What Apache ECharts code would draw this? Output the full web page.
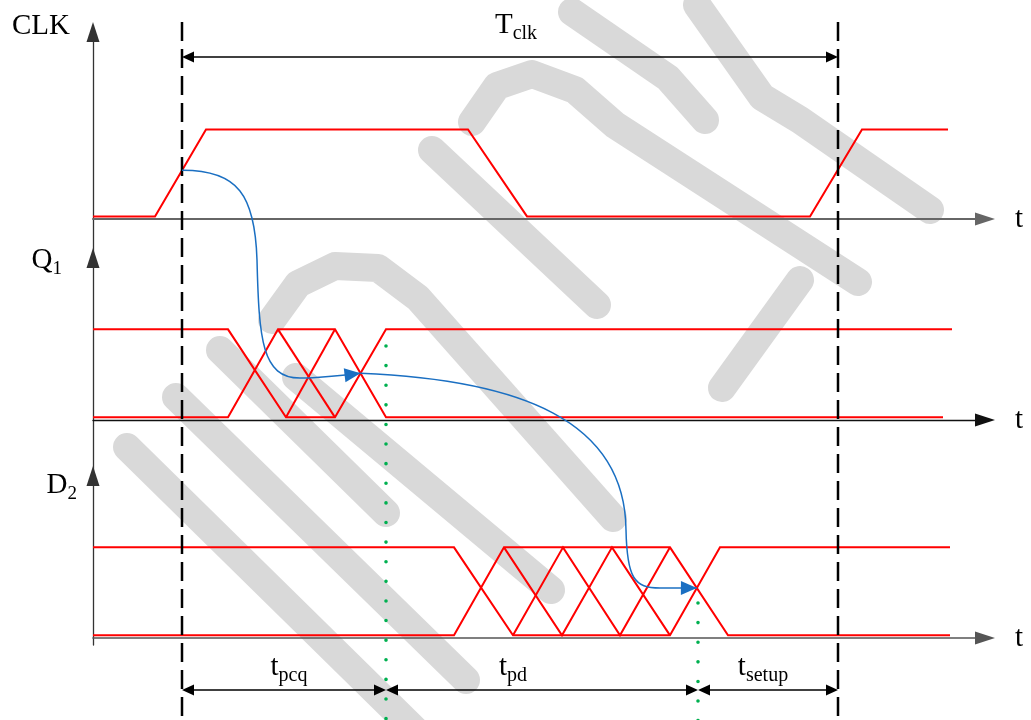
<!DOCTYPE html>
<html><head><meta charset="utf-8">
<script src="https://cdn.jsdelivr.net/npm/echarts@6/dist/echarts.min.js"></script>
<style>html,body{margin:0;padding:0;background:#fff}#c{width:1031px;height:720px}</style>
</head><body><div id="c"></div>
<script>
// ================= DATA (time in arbitrary units from the vertical axis, logic level 0/1) =================
const laneNames = ['CLK', 'Q1', 'D2'];
const laneMain = ['CLK', 'Q', 'D'];
const laneSub = ['', '1', '2'];

const clkWave = [[0,0],[62,0],[113,1],[375,1],[434,0],[717,0],[769,1],[855,1]];

const q1Paths = [
  [[0,1],[135,1],[193,0],[242,0],[293,1],[859,1]],
  [[0,0],[135,0],[185,1],[242,1],[293,0],[850,0]],
  [[185,1],[242,0]],
  [[193,0],[242,1]]
];

const d2Paths = [
  [[0,1],[361,1],[420,0],[577,0],[627,1],[857,1]],
  [[0,0],[361,0],[411,1],[577,1],[635,0],[857,0]],
  [[411,1],[469,0],[519,1],[577,0]],
  [[420,0],[470,1],[527,0],[577,1]]
];

const clockEdges = [89, 745];       // dashed lines at the two rising clock edges
const settleTimes = [293, 605];     // green dotted lines (Q1 settled, D2 settled)

const dimMain = ['T', 't', 't', 't'];
const dimSub = ['clk', 'pcq', 'pd', 'setup'];
const dimFrom = [89, 89, 293, 605];
const dimTo = [745, 293, 605, 745];
const dimLabelAt = [423, 196, 420, 670];

// blue cause->effect curves: [time, laneIndex, axisLevel], chains of cubic bezier segments
const causePath1 = [[89,0,0.56],[145,0,0.563],[162,0,0.276],[164,1,1.818],
                    [166,1,0.909],[169,1,0.477],[207,1,0.477],
                    [229,1,0.477],[249,1,0.511],[267.5,1,0.53]];
const causePath2 = [[267.5,1,0.53],[427,1,0.455],[532,1,0.0],[533,2,1.227],
                    [534,2,0.682],[541,2,0.568],[567,2,0.568],
                    [579,2,0.568],[591,2,0.567],[603.9,2,0.567]];

// ================= LAYOUT / STYLE =================
const LOW = 0.03;                       // low level drawn just above the time axis
const AXIS_X = 93, RIGHT = 46;
const laneLayout = [
  {top: 32,  bottomPx: 258, zeroPx: 219, ppu: 87, axisColor: '#666', axisW: 2,   nameGap: 6,  padR: 23},
  {top: 258, bottomPx: 476, zeroPx: 420, ppu: 88, axisColor: '#111', axisW: 1.3, nameGap: -2, padR: 31},
  {top: 476, bottomPx: 645, zeroPx: 638, ppu: 88, axisColor: '#555', axisW: 1.6, nameGap: -9, padR: 16}
];
const FONT = "'Liberation Serif','Times New Roman',serif";
const RED = '#ff0000', BLUE = '#1a6fc2', GREEN = '#00b050';

const chart = echarts.init(document.getElementById('c'), null, {renderer: 'canvas'});

const grids = [], xAxes = [], yAxes = [], series = [];
const xMax = 1031 - RIGHT - AXIS_X;

laneLayout.forEach((L, i) => {
  grids.push({left: AXIS_X, right: RIGHT, top: L.top, bottom: 720 - L.bottomPx});
  xAxes.push({
    gridIndex: i, type: 'value', min: 0, max: xMax,
    axisLine: {onZero: true, symbol: ['none', 'triangle'], symbolSize: [13, 20],
               lineStyle: {color: L.axisColor, width: L.axisW}},
    axisTick: {show: false}, axisLabel: {show: false}, splitLine: {show: false},
    name: 't', nameLocation: 'end', nameGap: 30,
    nameTextStyle: {fontFamily: FONT, fontSize: 29, color: '#000', padding: [0, 0, 12, 0]}
  });
  yAxes.push({
    gridIndex: i, type: 'value',
    min: -(L.bottomPx - L.zeroPx) / L.ppu, max: (L.zeroPx - L.top) / L.ppu,
    axisLine: {onZero: true, symbol: ['none', 'triangle'], symbolSize: [13, 20],
               lineStyle: {color: '#333', width: 1.3}},
    axisTick: {show: false}, axisLabel: {show: false}, splitLine: {show: false},
    name: laneSub[i] ? '{m|' + laneMain[i] + '}{s|' + laneSub[i] + '}' : '{m|' + laneMain[i] + '}',
    nameLocation: 'end', nameGap: L.nameGap,
    nameTextStyle: {align: 'right', verticalAlign: 'middle', padding: [0, L.padR, 0, 0],
      rich: {
        m: {fontFamily: FONT, fontSize: 29, color: '#000', lineHeight: 38, verticalAlign: 'middle'},
        s: {fontFamily: FONT, fontSize: 19, color: '#000', lineHeight: 38, verticalAlign: 'bottom'}
      }}
  });
});

// overlay coordinate system (time on x, vertical layout in px on y)
grids.push({left: 0, right: 0, top: 0, bottom: 0});
xAxes.push({gridIndex: 3, type: 'value', min: -AXIS_X, max: 1031 - AXIS_X, show: false});
yAxes.push({gridIndex: 3, type: 'value', min: 0, max: 720, inverse: true, show: false});

function addWave(path, lane) {
  series.push({
    type: 'line', xAxisIndex: lane, yAxisIndex: lane,
    data: path.map(p => [p[0], p[1] + LOW]),
    showSymbol: false, symbol: 'none', silent: true, animation: false, z: 5,
    lineStyle: {color: RED, width: 2, join: 'miter'}
  });
}
addWave(clkWave, 0);
q1Paths.forEach(p => addWave(p, 1));
d2Paths.forEach(p => addWave(p, 2));

// dashed clock-edge lines
series.push({
  type: 'custom', xAxisIndex: 3, yAxisIndex: 3, silent: true, animation: false, z: 6,
  data: clockEdges.map(t => [t, 0]),
  renderItem: (params, api) => {
    const a = api.coord([api.value(0), 22]), b = api.coord([api.value(0), 720]);
    return {type: 'line', shape: {x1: a[0], y1: a[1], x2: b[0], y2: b[1]},
            style: {stroke: '#000', lineWidth: 2.5, lineDash: [19, 8]}};
  }
});
// green dotted settle lines
const dotStartY = [346, 603];
series.push({
  type: 'custom', xAxisIndex: 3, yAxisIndex: 3, silent: true, animation: false, z: 6,
  data: settleTimes.map((t, i) => [t, dotStartY[i]]),
  renderItem: (params, api) => {
    const a = api.coord([api.value(0), api.value(1)]), b = api.coord([api.value(0), 722]);
    return {type: 'line', shape: {x1: a[0], y1: a[1], x2: b[0], y2: b[1]},
            style: {stroke: GREEN, lineWidth: 3.6, lineCap: 'round', lineDash: [0.01, 19.6]}};
  }
});
// dimension arrows with labels
const dimY = [57, 690, 690, 690];
const dimLabelY = [25, 667, 667, 667];
series.push({
  type: 'custom', xAxisIndex: 3, yAxisIndex: 3, silent: true, animation: false, z: 7,
  data: dimFrom.map((f, i) => [f, dimTo[i], dimLabelAt[i]]),
  renderItem: (params, api) => {
    const i = params.dataIndex;
    const a = api.coord([api.value(0), dimY[i]]), b = api.coord([api.value(1), dimY[i]]);
    const c = api.coord([api.value(2), dimLabelY[i]]);
    const L = 12, hw = 5.5;
    return {type: 'group', children: [
      {type: 'line', shape: {x1: a[0] + 2, y1: a[1], x2: b[0] - 2, y2: b[1]}, style: {stroke: '#000', lineWidth: 1.3}},
      {type: 'polygon', shape: {points: [[a[0], a[1]], [a[0] + L, a[1] - hw], [a[0] + L, a[1] + hw]]}, style: {fill: '#000'}},
      {type: 'polygon', shape: {points: [[b[0], b[1]], [b[0] - L, b[1] - hw], [b[0] - L, b[1] + hw]]}, style: {fill: '#000'}},
      {type: 'text', x: c[0], y: c[1], style: {
        text: '{m|' + dimMain[i] + '}{s|' + dimSub[i] + '}', align: 'center', verticalAlign: 'middle',
        rich: {
          m: {fontFamily: FONT, fontSize: 29, fill: '#000', lineHeight: 38, verticalAlign: 'middle'},
          s: {fontFamily: FONT, fontSize: 20, fill: '#000', lineHeight: 38, verticalAlign: 'bottom'}
        }}}
    ]};
  }
});

chart.setOption({
  animation: false,
  backgroundColor: '#fff',
  grid: grids, xAxis: xAxes, yAxis: yAxes, series: series
});

// ---------- watermark (decorative background strokes) ----------
const watermark = [
  [[432,150],[597,305]],
  [[472,122],[497,86],[532,74],[575,90],[615,125],[858,282]],
  [[572,12],[668,78],[705,120]],
  [[697,5],[762,97],[800,120],[930,210]],
  [[800,280],[722,388]],
  [[272,320],[298,284],[335,266],[378,268],[418,298],[613,518]],
  [[127,447],[420,735]],
  [[176,397],[466,680]],
  [[220,350],[386,513]],
  [[296,377],[551,590]]
];
const graphics = watermark.map(pts => ({
  type: 'polyline', z: -10, silent: true,
  shape: {points: pts},
  style: {stroke: '#d9d9d9', lineWidth: 28, lineCap: 'round', lineJoin: 'round', fill: null}
}));

// ---------- blue cause/effect curves through the lane scales ----------
function toPx(p) { return chart.convertToPixel({gridIndex: p[1]}, [p[0], p[2]]); }
function addCurve(path) {
  const px = path.map(toPx);
  for (let k = 0; k + 3 < px.length; k += 3) {
    graphics.push({type: 'bezierCurve', z: 50, silent: true,
      shape: {x1: px[k][0], y1: px[k][1], cpx1: px[k+1][0], cpy1: px[k+1][1],
              cpx2: px[k+2][0], cpy2: px[k+2][1], x2: px[k+3][0], y2: px[k+3][1]},
      style: {stroke: BLUE, lineWidth: 1.5, fill: null}});
  }
  const tip = px[px.length - 1], from = px[px.length - 3];
  const dx = tip[0] - from[0], dy = tip[1] - from[1], d = Math.hypot(dx, dy);
  const ux = dx / d, uy = dy / d, Lh = 16, hw = 7;
  const bx = tip[0] - ux * Lh, by = tip[1] - uy * Lh;
  graphics.push({type: 'polygon', z: 51, silent: true,
    shape: {points: [tip, [bx - uy * hw, by + ux * hw], [bx + uy * hw, by - ux * hw]]},
    style: {fill: BLUE}});
}
addCurve(causePath1);
addCurve(causePath2);

chart.setOption({graphic: graphics});
</script>
</body></html>
